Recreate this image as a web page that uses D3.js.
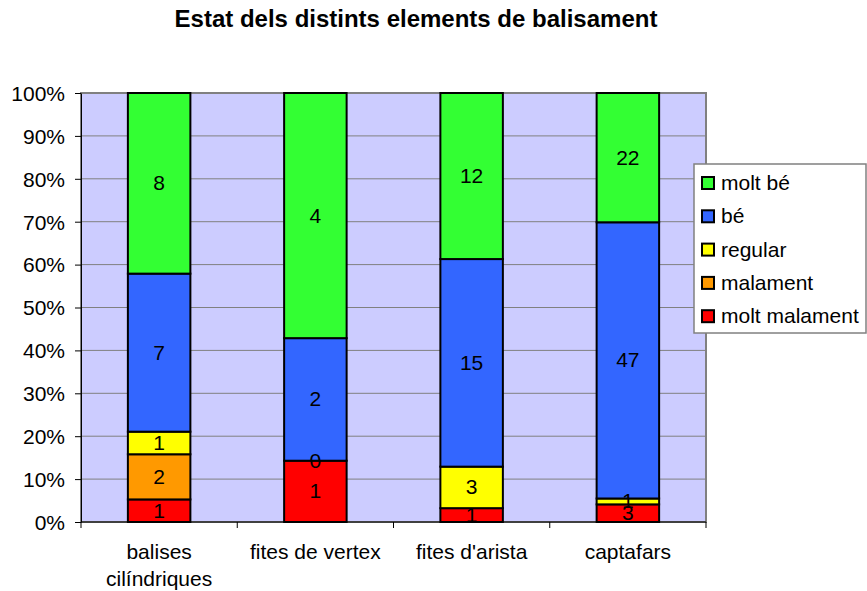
<!DOCTYPE html>
<meta charset="utf-8">
<html>
<head>
<script src="https://d3js.org/d3.v7.min.js"></script>
<style>
  body { margin: 0; background: white; }
  text { font-family: Arial, "Liberation Sans", sans-serif; }
</style>
</head>
<body>
<div id="chartdiv"></div>
<script>
// data
var categories = ["balises cilíndriques", "fites de vertex", "fites d'arista", "captafars"];
var seriesNames = ["molt malament", "malament", "regular", "bé", "molt bé"];
var moltMalament = [1, 1, 1, 3];
var malament = [2, null, null, null];
var regular = [1, 0, 3, 1];
var be = [7, 2, 15, 47];
var moltBe = [8, 4, 12, 22];
var tickLabels = ["0%", "10%", "20%", "30%", "40%", "50%", "60%", "70%", "80%", "90%", "100%"];

var seriesValues = [moltMalament, malament, regular, be, moltBe];
var colors = ["#FF0000", "#FF9900", "#FFFF00", "#3366FF", "#33FF33"];

// layout
var W = 867, H = 591;
var plotX = 81, plotY = 93, plotW = 625, plotH = 429;
var fs = "21px";

var svg = d3.select("#chartdiv").append("svg")
    .attr("width", W).attr("height", H);

svg.append("text")
    .attr("x", 416).attr("y", 27)
    .attr("text-anchor", "middle")
    .style("font-size", "24px").style("font-weight", "bold")
    .text("Estat dels distints elements de balisament");

var x = d3.scaleBand().domain(categories).range([plotX, plotX + plotW]).paddingInner(0.6).paddingOuter(0.3);
var xc = d3.scaleBand().domain(categories).range([plotX, plotX + plotW]);
var y = d3.scaleLinear().domain([0, 1]).range([plotY + plotH, plotY]);

// plot background
svg.append("rect")
    .attr("x", plotX).attr("y", plotY).attr("width", plotW).attr("height", plotH)
    .attr("fill", "#CCCCFF").attr("stroke", "#808080").attr("stroke-width", 2);

// gridlines
svg.append("g").selectAll("line")
    .data(d3.range(1, 10).map(d => d / 10))
    .enter().append("line")
    .attr("x1", plotX).attr("x2", plotX + plotW)
    .attr("y1", d => y(d)).attr("y2", d => y(d))
    .attr("stroke", "#808080").attr("stroke-width", 1);

// stacks
var totals = categories.map((c, i) => d3.sum(seriesValues, s => s[i] || 0));
var segs = [];
categories.forEach(function(c, i) {
    var acc = 0;
    seriesValues.forEach(function(s, k) {
        var v = s[i];
        if (v === null) return;
        var y0 = acc / totals[i];
        acc += v;
        segs.push({cat: c, k: k, v: v, y0: y0, y1: acc / totals[i]});
    });
});

svg.append("g").selectAll("rect")
    .data(segs.filter(d => d.v > 0))
    .enter().append("rect")
    .attr("x", d => x(d.cat))
    .attr("width", x.bandwidth())
    .attr("y", d => y(d.y1))
    .attr("height", d => y(d.y0) - y(d.y1))
    .attr("fill", d => colors[d.k])
    .attr("stroke", "black").attr("stroke-width", 2);

svg.append("g").selectAll("text")
    .data(segs)
    .enter().append("text")
    .attr("x", d => x(d.cat) + x.bandwidth() / 2)
    .attr("y", d => (y(d.y0) + y(d.y1)) / 2 + 7)
    .attr("text-anchor", "middle")
    .style("font-size", fs)
    .text(d => d.v);

// y axis
var yAxis = svg.append("g")
    .attr("transform", "translate(" + plotX + ",0)")
    .call(d3.axisLeft(y).tickValues(d3.range(0, 11).map(d => d / 10))
        .tickFormat((d, i) => tickLabels[i]).tickSize(6).tickSizeOuter(0).tickPadding(10));
yAxis.select(".domain").attr("stroke", "#000").attr("stroke-width", 1);
yAxis.selectAll("text").style("font-size", fs).attr("fill", "#000").attr("dy", "0.35em");

// x axis
svg.append("line")
    .attr("x1", plotX).attr("x2", plotX + plotW)
    .attr("y1", plotY + plotH).attr("y2", plotY + plotH)
    .attr("stroke", "#000");
svg.append("g").selectAll("line")
    .data(categories.concat(["end"]))
    .enter().append("line")
    .attr("x1", (d, i) => plotX + i * xc.bandwidth())
    .attr("x2", (d, i) => plotX + i * xc.bandwidth())
    .attr("y1", plotY + plotH).attr("y2", plotY + plotH + 6)
    .attr("stroke", "#000");

var xl = svg.append("g").selectAll("text")
    .data(categories)
    .enter().append("text")
    .attr("x", d => xc(d) + xc.bandwidth() / 2)
    .attr("y", plotY + plotH + 37)
    .attr("text-anchor", "middle")
    .style("font-size", fs);
xl.each(function(d) {
    var t = d3.select(this);
    var words = d === "balises cilíndriques" ? ["balises", "cilíndriques"] : [d];
    words.forEach(function(w, j) {
        t.append("tspan").attr("x", xc(d) + xc.bandwidth() / 2).attr("dy", j ? 27 : 0).text(w);
    });
});

// legend
var lg = svg.append("g").attr("transform", "translate(694,164)");
lg.append("rect").attr("width", 172).attr("height", 169)
    .attr("fill", "white").attr("stroke", "#808080").attr("stroke-width", 1.5);
var order = [4, 3, 2, 1, 0];
order.forEach(function(k, j) {
    var g = lg.append("g").attr("transform", "translate(0," + (19 + j * 33.3) + ")");
    g.append("rect").attr("x", 8).attr("y", -6).attr("width", 12).attr("height", 12)
        .attr("fill", colors[k]).attr("stroke", "black").attr("stroke-width", 2);
    g.append("text").attr("x", 27).attr("y", 7).style("font-size", fs).text(seriesNames[k]);
});
</script>
</body>
</html>
